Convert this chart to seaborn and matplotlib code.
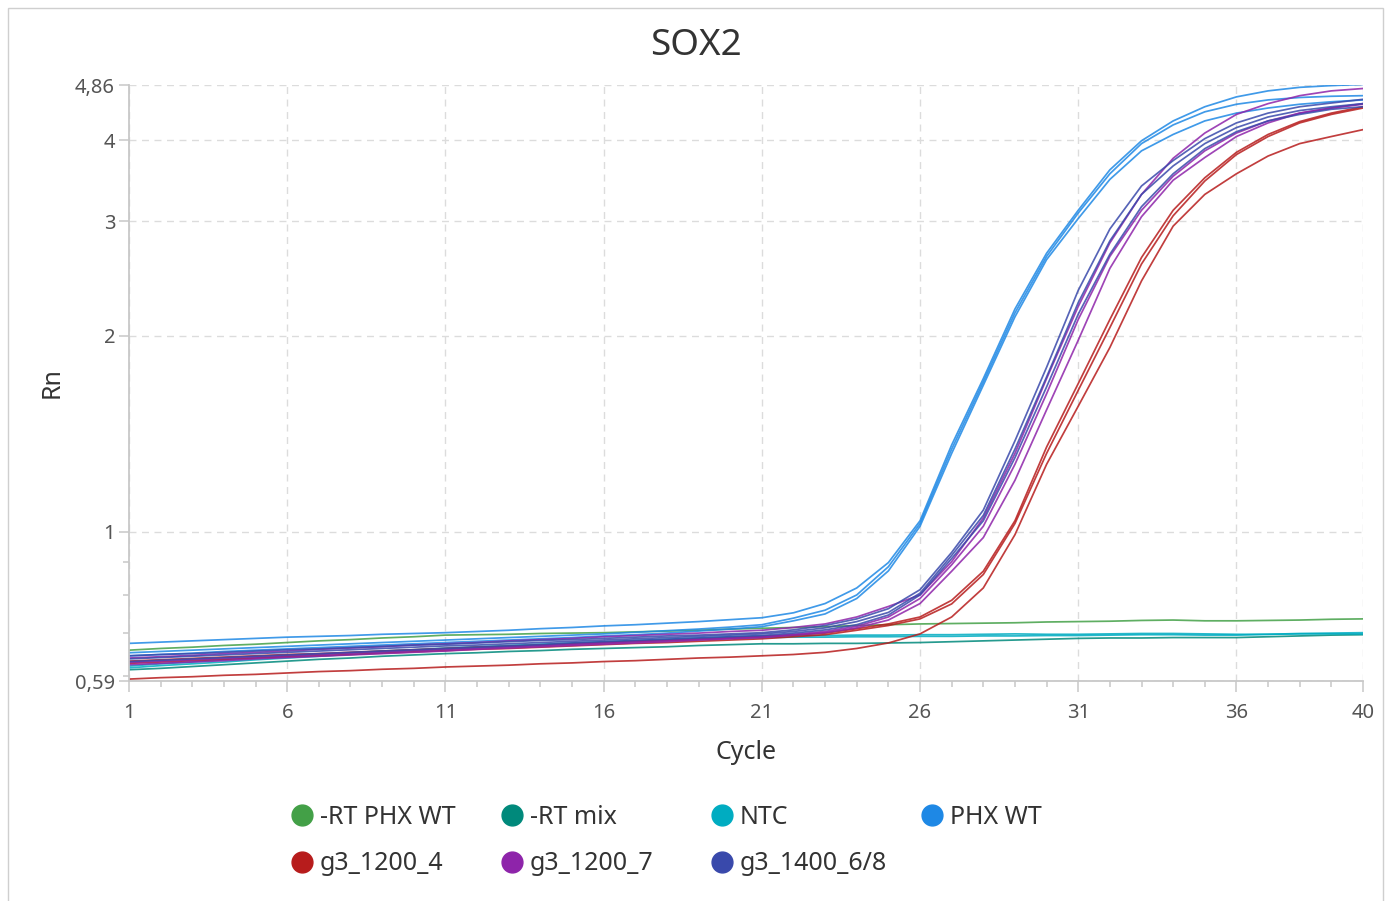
import numpy as np
import pandas as pd
import matplotlib
matplotlib.use("Agg")
import matplotlib.pyplot as plt
from matplotlib.lines import Line2D
from matplotlib.patches import Rectangle
from matplotlib.ticker import FixedLocator, FixedFormatter, NullFormatter
import seaborn as sns

# ---------------- data (Rn per cycle) ----------------
cycles = list(range(1, 41))

rt_phx_wt_1 = [0.658, 0.662, 0.665, 0.669, 0.672, 0.676, 0.680, 0.683, 0.687, 0.690,
               0.694, 0.695, 0.696, 0.698, 0.699, 0.700, 0.702, 0.704, 0.706, 0.709,
               0.711, 0.713, 0.715, 0.718, 0.720, 0.722, 0.723, 0.724, 0.725, 0.727,
               0.728, 0.729, 0.731, 0.732, 0.730, 0.730, 0.731, 0.732, 0.734, 0.735]

rt_mix_1 = [0.614, 0.617, 0.621, 0.625, 0.629, 0.633, 0.637, 0.640, 0.644, 0.647,
            0.650, 0.652, 0.655, 0.657, 0.660, 0.662, 0.664, 0.666, 0.669, 0.671,
            0.673, 0.673, 0.674, 0.674, 0.675, 0.676, 0.678, 0.680, 0.682, 0.684,
            0.686, 0.687, 0.687, 0.688, 0.688, 0.688, 0.690, 0.692, 0.694, 0.695]

ntc_1 = [0.618, 0.623, 0.627, 0.631, 0.636, 0.640, 0.644, 0.648, 0.652, 0.656,
         0.660, 0.663, 0.666, 0.669, 0.672, 0.675, 0.678, 0.681, 0.683, 0.686,
         0.688, 0.689, 0.689, 0.690, 0.690, 0.691, 0.691, 0.692, 0.692, 0.693,
         0.693, 0.694, 0.695, 0.695, 0.694, 0.694, 0.696, 0.698, 0.699, 0.700]
ntc_2 = [0.622, 0.627, 0.631, 0.636, 0.640, 0.644, 0.648, 0.652, 0.656, 0.659,
         0.663, 0.666, 0.669, 0.672, 0.675, 0.678, 0.681, 0.684, 0.687, 0.690,
         0.692, 0.693, 0.693, 0.694, 0.694, 0.695, 0.695, 0.696, 0.697, 0.696,
         0.696, 0.697, 0.698, 0.698, 0.697, 0.696, 0.696, 0.697, 0.697, 0.697]

phx_wt_1 = [0.674, 0.677, 0.680, 0.683, 0.686, 0.689, 0.691, 0.693, 0.696, 0.698,
            0.700, 0.703, 0.706, 0.710, 0.713, 0.717, 0.720, 0.724, 0.728, 0.733,
            0.738, 0.751, 0.776, 0.820, 0.897, 1.040, 1.360, 1.720, 2.200, 2.680,
            3.120, 3.600, 3.990, 4.280, 4.500, 4.660, 4.760, 4.820, 4.850, 4.870]
phx_wt_2 = [0.652, 0.655, 0.658, 0.661, 0.664, 0.667, 0.670, 0.673, 0.676, 0.679,
            0.682, 0.685, 0.688, 0.691, 0.694, 0.697, 0.701, 0.705, 0.709, 0.714,
            0.720, 0.737, 0.758, 0.800, 0.884, 1.030, 1.340, 1.700, 2.170, 2.650,
            3.090, 3.550, 3.950, 4.220, 4.420, 4.540, 4.610, 4.650, 4.670, 4.680]
phx_wt_3 = [0.645, 0.648, 0.651, 0.655, 0.658, 0.661, 0.664, 0.667, 0.670, 0.673,
            0.676, 0.679, 0.682, 0.685, 0.688, 0.692, 0.695, 0.699, 0.704, 0.709,
            0.715, 0.730, 0.748, 0.790, 0.871, 1.020, 1.320, 1.680, 2.140, 2.620,
            3.030, 3.480, 3.850, 4.080, 4.280, 4.400, 4.480, 4.540, 4.580, 4.610]

g3_1200_4_1 = [0.633, 0.636, 0.639, 0.642, 0.645, 0.648, 0.650, 0.653, 0.656, 0.659,
               0.662, 0.665, 0.667, 0.670, 0.673, 0.676, 0.679, 0.681, 0.684, 0.687,
               0.690, 0.694, 0.699, 0.710, 0.722, 0.740, 0.785, 0.870, 1.040, 1.350,
               1.690, 2.120, 2.640, 3.120, 3.500, 3.830, 4.080, 4.270, 4.400, 4.500]
g3_1200_4_2 = [0.628, 0.631, 0.634, 0.637, 0.640, 0.643, 0.645, 0.648, 0.651, 0.654,
               0.657, 0.660, 0.662, 0.665, 0.668, 0.671, 0.674, 0.676, 0.679, 0.682,
               0.685, 0.690, 0.695, 0.706, 0.718, 0.735, 0.775, 0.860, 1.030, 1.320,
               1.650, 2.060, 2.580, 3.060, 3.460, 3.800, 4.050, 4.250, 4.380, 4.480]
g3_1200_4_3 = [0.594, 0.597, 0.599, 0.602, 0.604, 0.607, 0.610, 0.612, 0.615, 0.617,
               0.620, 0.622, 0.624, 0.627, 0.629, 0.632, 0.634, 0.637, 0.640, 0.642,
               0.645, 0.648, 0.653, 0.662, 0.675, 0.697, 0.740, 0.820, 0.990, 1.270,
               1.560, 1.920, 2.430, 2.950, 3.300, 3.550, 3.780, 3.950, 4.050, 4.150]

g3_1200_7_1 = [0.640, 0.643, 0.646, 0.650, 0.653, 0.656, 0.660, 0.663, 0.666, 0.670,
               0.673, 0.676, 0.680, 0.683, 0.686, 0.690, 0.693, 0.696, 0.699, 0.703,
               0.706, 0.713, 0.722, 0.740, 0.768, 0.800, 0.900, 1.050, 1.320, 1.720,
               2.220, 2.780, 3.300, 3.750, 4.100, 4.380, 4.550, 4.680, 4.760, 4.800]
g3_1200_7_2 = [0.630, 0.633, 0.636, 0.639, 0.642, 0.645, 0.648, 0.651, 0.654, 0.657,
               0.660, 0.663, 0.666, 0.669, 0.672, 0.675, 0.678, 0.681, 0.684, 0.687,
               0.690, 0.696, 0.703, 0.716, 0.740, 0.790, 0.890, 1.020, 1.270, 1.630,
               2.120, 2.650, 3.120, 3.520, 3.850, 4.100, 4.280, 4.400, 4.480, 4.540]
g3_1200_7_3 = [0.625, 0.628, 0.631, 0.634, 0.638, 0.641, 0.644, 0.647, 0.650, 0.653,
               0.656, 0.660, 0.663, 0.666, 0.669, 0.672, 0.675, 0.678, 0.682, 0.685,
               0.688, 0.694, 0.700, 0.712, 0.732, 0.776, 0.870, 0.980, 1.200, 1.540,
               1.970, 2.540, 3.050, 3.470, 3.760, 4.050, 4.250, 4.400, 4.480, 4.550]

g3_1400_68_1 = [0.645, 0.648, 0.650, 0.653, 0.656, 0.659, 0.661, 0.664, 0.667, 0.670,
                0.672, 0.675, 0.678, 0.681, 0.683, 0.686, 0.689, 0.692, 0.694, 0.697,
                0.700, 0.707, 0.718, 0.735, 0.762, 0.815, 0.930, 1.080, 1.380, 1.790,
                2.350, 2.920, 3.400, 3.720, 4.020, 4.250, 4.400, 4.500, 4.560, 4.620]
g3_1400_68_2 = [0.638, 0.641, 0.644, 0.647, 0.650, 0.653, 0.656, 0.659, 0.662, 0.665,
                0.668, 0.670, 0.673, 0.676, 0.679, 0.682, 0.685, 0.688, 0.691, 0.694,
                0.697, 0.703, 0.712, 0.728, 0.752, 0.805, 0.920, 1.060, 1.340, 1.730,
                2.250, 2.800, 3.300, 3.650, 3.950, 4.180, 4.340, 4.440, 4.500, 4.550]
g3_1400_68_3 = [0.632, 0.635, 0.638, 0.641, 0.644, 0.647, 0.650, 0.653, 0.656, 0.659,
                0.662, 0.665, 0.668, 0.671, 0.675, 0.678, 0.681, 0.684, 0.687, 0.690,
                0.693, 0.699, 0.707, 0.720, 0.745, 0.800, 0.910, 1.040, 1.300, 1.670,
                2.160, 2.670, 3.160, 3.550, 3.880, 4.120, 4.280, 4.380, 4.460, 4.500]

groups = ["-RT PHX WT", "-RT mix", "NTC", "PHX WT", "g3_1200_4", "g3_1200_7", "g3_1400_6/8"]
colors = ["#43A047", "#00897B", "#00ACC1", "#1E88E5", "#B71C1C", "#8E24AA", "#3949AB"]
curves = [
    ("-RT PHX WT", "rt1", rt_phx_wt_1),
    ("-RT mix", "mix1", rt_mix_1),
    ("NTC", "ntc1", ntc_1), ("NTC", "ntc2", ntc_2),
    ("PHX WT", "wt1", phx_wt_1), ("PHX WT", "wt2", phx_wt_2), ("PHX WT", "wt3", phx_wt_3),
    ("g3_1200_4", "a1", g3_1200_4_1), ("g3_1200_4", "a2", g3_1200_4_2), ("g3_1200_4", "a3", g3_1200_4_3),
    ("g3_1200_7", "b1", g3_1200_7_1), ("g3_1200_7", "b2", g3_1200_7_2), ("g3_1200_7", "b3", g3_1200_7_3),
    ("g3_1400_6/8", "c1", g3_1400_68_1), ("g3_1400_6/8", "c2", g3_1400_68_2), ("g3_1400_6/8", "c3", g3_1400_68_3),
]
x_major = [1, 6, 11, 16, 21, 26, 31, 36, 40]
y_major = [0.59, 1, 2, 3, 4, 4.86]
y_major_labels = ["0,59", "1", "2", "3", "4", "4,86"]
y_minor = [0.6, 0.7, 0.8, 0.9]

rows = []
for grp, well, vals in curves:
    for c, v in zip(cycles, vals):
        rows.append({"Cycle": c, "Rn": v, "group": grp, "well": well})
df = pd.DataFrame(rows)
palette = dict(zip(groups, colors))

# ---------------- plot ----------------
sns.set_style("white")
plt.rcParams["font.family"] = ["Noto Sans", "DejaVu Sans"]

fig = plt.figure(figsize=(13.92, 9.01), dpi=100)
ax = fig.add_axes([129 / 1392, 1 - 681 / 901, (1363 - 129) / 1392, (681 - 85) / 901])

sns.lineplot(data=df, x="Cycle", y="Rn", hue="group", units="well", estimator=None,
             palette=palette, hue_order=groups, linewidth=1.25, alpha=0.85,
             legend=False, ax=ax, sort=False)

ax.set_yscale("log")
ax.set_xlim(1, 40)
ax.set_ylim(0.59, 4.86)

ax.xaxis.set_major_locator(FixedLocator(x_major))
ax.xaxis.set_minor_locator(FixedLocator(cycles))
ax.xaxis.set_major_formatter(FixedFormatter([str(v) for v in x_major]))
ax.yaxis.set_major_locator(FixedLocator(y_major))
ax.yaxis.set_major_formatter(FixedFormatter(y_major_labels))
ax.yaxis.set_minor_locator(FixedLocator(y_minor))
ax.yaxis.set_minor_formatter(NullFormatter())

ax.grid(True, which="major", axis="both", color="#dcdcdc", linestyle=(0, (5, 4)), linewidth=1.0)
for s in ["top", "right"]:
    ax.spines[s].set_visible(False)
for s in ["left", "bottom"]:
    ax.spines[s].set_color("#c8c8c8")
    ax.spines[s].set_linewidth(1.3)

ax.tick_params(axis="both", which="major", colors="#c8c8c8", labelcolor="#555555",
               labelsize=14.5, width=1.1)
ax.tick_params(axis="x", which="major", length=8, pad=8, direction="out", bottom=True)
ax.tick_params(axis="y", which="major", length=7, pad=3, direction="out", left=True)
ax.tick_params(axis="both", which="minor", colors="#c8c8c8", length=4.5, width=1.1,
               direction="out", bottom=True, left=True)

ax.set_xlabel("Cycle", fontsize=18, color="#333333")
ax.set_ylabel("Rn", fontsize=18, color="#333333")
ax.xaxis.set_label_coords(0.5, -0.099)
ax.yaxis.set_label_coords(-0.052, 0.5)

fig.text(696 / 1392, 1 - 46 / 901, "SOX2", ha="center", va="center",
         fontsize=26.5, color="#333333")

# legend: one entry per slot, row-wise grid
slot_x = [291, 501, 711, 921]
slot_y = [817, 864]
for i, (g, c) in enumerate(zip(groups, colors)):
    r, col = divmod(i, 4)
    h = Line2D([], [], marker="o", linestyle="none", markersize=15,
               markerfacecolor=c, markeredgecolor=c)
    fig.legend(handles=[h], labels=[g], loc="center left",
               bbox_to_anchor=(slot_x[col] / 1392, 1 - slot_y[r] / 901),
               frameon=False, fontsize=18, handlelength=0.85, handletextpad=0.3,
               borderpad=0, borderaxespad=0, labelcolor="#333333")

fig.patches.append(Rectangle((8 / 1392, -0.01), (1383 - 8) / 1392, 1 - 8 / 901 + 0.01,
                             transform=fig.transFigure, fill=False,
                             edgecolor="#cfcfcf", linewidth=1.0))

fig.savefig("out.png", dpi=100)
